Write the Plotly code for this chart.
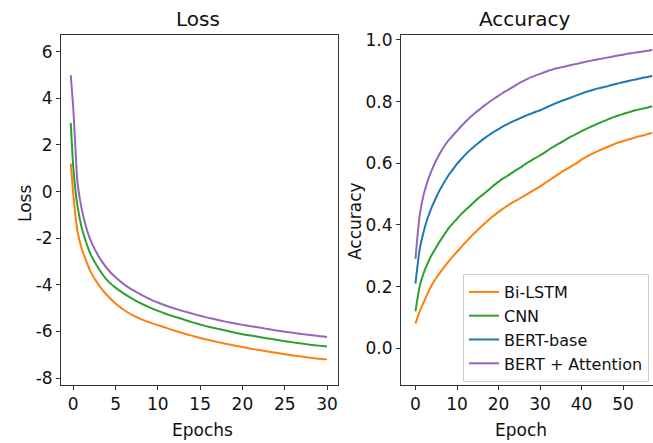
import plotly.graph_objects as go

# ---------------- data ----------------
loss_epochs = [-0.3, 0, 0.25, 0.5, 1, 1.5, 2, 3, 4, 5, 6, 7, 8, 9, 10, 11, 12, 13, 14, 15,
               16, 17, 18, 19, 20, 21, 22, 23, 24, 25, 26, 27, 28, 29, 30]
loss_bilstm = [1.2, -0.1, -1.0, -1.7, -2.45, -2.95, -3.4, -4.0, -4.45, -4.8, -5.08, -5.3,
               -5.47, -5.61, -5.73, -5.85, -5.97, -6.08, -6.18, -6.28, -6.37, -6.45, -6.53,
               -6.6, -6.67, -6.74, -6.8, -6.86, -6.92, -6.98, -7.03, -7.08, -7.13, -7.17, -7.2]
loss_cnn = [2.95, 1.06, 0.1, -0.6, -1.55, -2.15, -2.65, -3.3, -3.8, -4.12, -4.38, -4.6,
            -4.8, -4.97, -5.12, -5.25, -5.37, -5.48, -5.6, -5.7, -5.8, -5.88, -5.96, -6.05,
            -6.12, -6.18, -6.24, -6.3, -6.36, -6.42, -6.47, -6.52, -6.57, -6.61, -6.65]
loss_bert_att = [5.0, 3.6, 1.9, 0.4, -0.75, -1.5, -2.05, -2.78, -3.3, -3.68, -3.98, -4.22,
                 -4.42, -4.6, -4.76, -4.9, -5.02, -5.13, -5.23, -5.33, -5.42, -5.5, -5.58,
                 -5.65, -5.72, -5.78, -5.83, -5.9, -5.96, -6.01, -6.06, -6.11, -6.15, -6.2,
                 -6.24]

acc_epochs = list(range(0, 58))
acc_bilstm = [0.08, 0.12, 0.15, 0.18, 0.207, 0.228, 0.247, 0.265, 0.282, 0.298, 0.313, 0.328,
              0.343, 0.357, 0.371, 0.384, 0.397, 0.409, 0.421, 0.432, 0.442, 0.452, 0.461,
              0.47, 0.477, 0.485, 0.493, 0.501, 0.509, 0.517, 0.525, 0.534, 0.543, 0.552,
              0.561, 0.57, 0.578, 0.586, 0.594, 0.602, 0.612, 0.62, 0.627, 0.634, 0.64, 0.646,
              0.652, 0.657, 0.663, 0.668, 0.672, 0.676, 0.68, 0.684, 0.688, 0.691, 0.695,
              0.698]
acc_cnn = [0.12, 0.20, 0.245, 0.278, 0.305, 0.328, 0.35, 0.37, 0.39, 0.405, 0.42, 0.435,
           0.448, 0.46, 0.473, 0.485, 0.496, 0.507, 0.518, 0.53, 0.54, 0.55, 0.558, 0.567,
           0.576, 0.584, 0.593, 0.602, 0.61, 0.618, 0.626, 0.634, 0.643, 0.652, 0.66, 0.667,
           0.675, 0.683, 0.69, 0.697, 0.704, 0.711, 0.717, 0.723, 0.729, 0.735, 0.74, 0.746,
           0.751, 0.756, 0.76, 0.764, 0.768, 0.772, 0.775, 0.778, 0.781, 0.785]
acc_bert = [0.21, 0.32, 0.38, 0.425, 0.46, 0.49, 0.517, 0.54, 0.562, 0.58, 0.598, 0.613,
            0.628, 0.641, 0.653, 0.664, 0.675, 0.685, 0.694, 0.703, 0.711, 0.719, 0.726,
            0.733, 0.739, 0.745, 0.751, 0.757, 0.762, 0.767, 0.772, 0.778, 0.784, 0.79,
            0.796, 0.801, 0.806, 0.811, 0.816, 0.821, 0.826, 0.831, 0.835, 0.839, 0.843,
            0.846, 0.849, 0.853, 0.856, 0.86, 0.863, 0.866, 0.869, 0.872, 0.875, 0.878,
            0.88, 0.883]
acc_bert_att = [0.29, 0.43, 0.50, 0.545, 0.58, 0.61, 0.635, 0.657, 0.675, 0.69, 0.705, 0.72,
                0.734, 0.747, 0.759, 0.77, 0.781, 0.791, 0.801, 0.81, 0.819, 0.828, 0.836,
                0.844, 0.852, 0.86, 0.867, 0.874, 0.88, 0.885, 0.89, 0.895, 0.9, 0.904,
                0.908, 0.911, 0.914, 0.917, 0.92, 0.923, 0.926, 0.929, 0.932, 0.935, 0.937,
                0.94, 0.942, 0.945, 0.947, 0.95, 0.952, 0.955, 0.957, 0.959, 0.961, 0.963,
                0.965, 0.967]

series_names = ["Bi-LSTM", "CNN", "BERT-base", "BERT + Attention"]
colors = ["#ff7f0e", "#2ca02c", "#1f77b4", "#9467bd"]

loss_ticks = [6, 4, 2, 0, -2, -4, -6, -8]
loss_tick_text = ["6", "4", "2", "0", "-2", "-4", "-6", "-8"]
loss_xticks = [0, 5, 10, 15, 20, 25, 30]
acc_ticks = [0.0, 0.2, 0.4, 0.6, 0.8, 1.0]
acc_xticks = [0, 10, 20, 30, 40, 50]

# ---------------- figure ----------------
FONT = "DejaVu Sans"
TXT = "#111111"
fig = go.Figure()

loss_series = [(0, loss_bilstm), (1, loss_cnn), (3, loss_bert_att)]
for i, ys in loss_series:
    fig.add_trace(go.Scatter(x=loss_epochs, y=ys, mode="lines", name=series_names[i],
                             line=dict(color=colors[i], width=2, shape="spline",
                                       smoothing=0.6),
                             showlegend=False, xaxis="x", yaxis="y"))

acc_series = [acc_bilstm, acc_cnn, acc_bert, acc_bert_att]
for name, col, ys in zip(series_names, colors, acc_series):
    fig.add_trace(go.Scatter(x=acc_epochs, y=ys, mode="lines", name=name,
                             line=dict(color=col, width=2, shape="spline", smoothing=0.6),
                             showlegend=True, xaxis="x2", yaxis="y2"))

axis_common = dict(showgrid=False, zeroline=False, showline=True, linecolor="#333333",
                   linewidth=1, ticks="outside", ticklen=4, tickcolor="#333333",
                   automargin=False,
                   tickfont=dict(family=FONT, size=17, color=TXT))

ydom = [0.1309, 0.921]
L_DOM = [0.0934, 0.5176]
R_DOM = [0.614, 1.0]


def ann(text, x, y, size, angle=0):
    return dict(text=text, x=x, y=y, xref="paper", yref="paper", xanchor="center",
                yanchor="middle", showarrow=False, textangle=angle,
                font=dict(family=FONT, size=size, color=TXT))


fig.update_layout(
    width=653, height=443,
    margin=dict(l=0, r=0, t=0, b=0, autoexpand=False),
    paper_bgcolor="white", plot_bgcolor="white",
    font=dict(family=FONT, color=TXT),
    xaxis=dict(domain=L_DOM, range=[-1.45, 31.3], tickvals=loss_xticks,
               mirror=True, anchor="y", **axis_common),
    yaxis=dict(domain=ydom, range=[-8.3, 6.72], tickvals=loss_ticks,
               ticktext=loss_tick_text, mirror=True, anchor="x", **axis_common),
    xaxis2=dict(domain=R_DOM, range=[-3.5, 57.2], tickvals=acc_xticks,
                mirror=True, anchor="y2", **axis_common),
    yaxis2=dict(domain=ydom, range=[-0.119, 1.016], tickvals=acc_ticks,
                tickformat=".1f", mirror=False, anchor="x2", **axis_common),
    legend=dict(x=0.709, y=0.3815, xanchor="left", yanchor="top",
                bgcolor="rgba(255,255,255,0.85)", bordercolor="#cccccc", borderwidth=1,
                font=dict(family=FONT, size=16, color=TXT),
                itemwidth=30, tracegroupgap=0),
    annotations=[
        ann("Loss", 198 / 653, 1 - 19 / 443, 20),
        ann("Accuracy", 524 / 653, 1 - 19 / 443, 20),
        ann("Epochs", 202 / 653, 1 - 430 / 443, 17),
        ann("Epoch", 521 / 653, 1 - 430 / 443, 17),
        ann("Loss", 25 / 653, 1 - 203 / 443, 17, -90),
        ann("Accuracy", 355 / 653, 1 - 221 / 443, 17, -90),
    ],
)

fig.write_html("out.html", config={"displayModeBar": False},
               post_script="document.body.style.margin='0px';"
                           "document.body.style.padding='0px';")
